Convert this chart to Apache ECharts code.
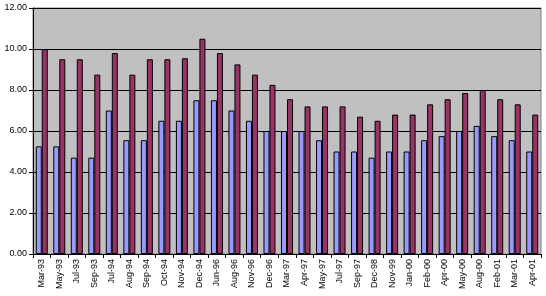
<!DOCTYPE html>
<html>
<head>
<meta charset="utf-8">
<script src="https://cdn.jsdelivr.net/npm/echarts@6/dist/echarts.min.js"></script>
<style>
  html, body { margin: 0; padding: 0; background: #fff; }
  #main { width: 546px; height: 296px; }
</style>
</head>
<body>
<div id="main"></div>
<script>
// categories (month-year)
const months = ['Mar-93', 'May-93', 'Jul-93', 'Sep-93', 'Jul-94', 'Aug-94', 'Sep-94', 'Oct-94',
  'Nov-94', 'Dec-94', 'Jun-96', 'Aug-96', 'Nov-96', 'Dec-96', 'Mar-97', 'Apr-97', 'May-97',
  'Jul-97', 'Sep-97', 'Dec-98', 'Nov-99', 'Jan-00', 'Feb-00', 'Apr-00', 'May-00', 'Aug-00',
  'Feb-01', 'Mar-01', 'Apr-01'];

// blue series
const blueVals = [5.25, 5.25, 4.7, 4.7, 7.0, 5.55, 5.55, 6.5, 6.5, 7.5, 7.5, 7.0, 6.5, 6.0,
  6.0, 6.0, 5.55, 5.0, 5.0, 4.7, 5.0, 5.0, 5.55, 5.75, 6.0, 6.25, 5.75, 5.55, 5.0];

// red series
const redVals = [10.0, 9.5, 9.5, 8.75, 9.8, 8.75, 9.5, 9.5, 9.55, 10.5, 9.8, 9.25, 8.75, 8.25,
  7.55, 7.2, 7.2, 7.2, 6.7, 6.5, 6.8, 6.8, 7.3, 7.55, 7.85, 8.0, 7.55, 7.3, 6.8];

const yTicks = [0, 2, 4, 6, 8, 10, 12];

const chart = echarts.init(document.getElementById('main'));

chart.setOption({
  animation: false,
  grid: {
    left: 33, right: 5, top: 8, bottom: 42,
    show: true,
    backgroundColor: '#C0C0C0',
    borderColor: '#808080',
    borderWidth: 1
  },
  xAxis: {
    type: 'category',
    data: months,
    axisLine: { lineStyle: { color: '#000', width: 1 } },
    axisTick: { show: true, length: 4, lineStyle: { color: '#000' } },
    axisLabel: {
      interval: 0,
      rotate: 90,
      fontFamily: 'Arial, Liberation Sans',
      fontSize: 9,
      color: '#000',
      margin: 5
    }
  },
  yAxis: {
    type: 'value',
    min: yTicks[0],
    max: yTicks[yTicks.length - 1],
    interval: 2,
    axisLine: { show: true, lineStyle: { color: '#000', width: 1 } },
    axisTick: { show: true, length: 4, lineStyle: { color: '#000' } },
    splitLine: { show: true, lineStyle: { color: '#000', width: 1 } },
    axisLabel: {
      fontFamily: 'Arial, Liberation Sans',
      fontSize: 9,
      color: '#000',
      margin: 6,
      formatter: v => v.toFixed(2)
    }
  },
  series: [
    {
      type: 'bar',
      data: blueVals,
      barWidth: 6,
      barGap: '0%',
      itemStyle: { color: '#9999FF', borderColor: '#000', borderWidth: 1 }
    },
    {
      type: 'bar',
      data: redVals,
      barWidth: 6,
      itemStyle: { color: '#993366', borderColor: '#000', borderWidth: 1 }
    }
  ]
});
</script>
</body>
</html>
